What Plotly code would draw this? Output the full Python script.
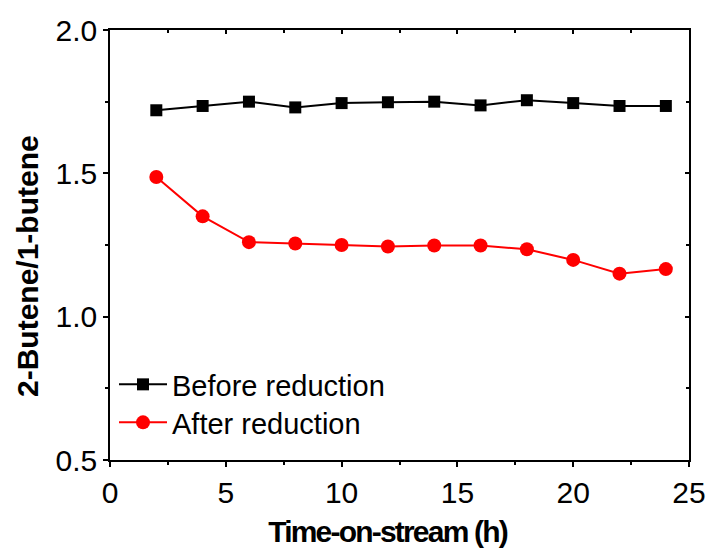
import plotly.graph_objects as go

time_h = [2, 4, 6, 8, 10, 12, 14, 16, 18, 20, 22, 24]
before_reduction = [1.72, 1.735, 1.75, 1.73, 1.745, 1.748, 1.75, 1.737, 1.755, 1.745, 1.735, 1.735]
after_reduction = [1.487, 1.35, 1.26, 1.255, 1.25, 1.245, 1.248, 1.248, 1.235, 1.198, 1.15, 1.166]

x_ticks = [0, 5, 10, 15, 20, 25]
y_ticks = [0.5, 1.0, 1.5, 2.0]
y_tick_labels = ["0.5", "1.0", "1.5", "2.0"]

x_title = "Time-on-stream (h)"
y_title = "2-Butene/1-butene"

FONT = "Liberation Sans, Arial, sans-serif"

W, H = 711, 550
ML, MR, MT, MB = 110, 22, 30, 90
PW, PH = W - ML - MR, H - MT - MB


def px_to_paper_x(px):
    return (px - ML) / PW


def px_to_paper_y(py):
    return (H - MB - py) / PH


fig = go.Figure()
fig.add_trace(go.Scatter(
    x=time_h, y=before_reduction, mode="lines+markers", name="Before reduction",
    line=dict(color="black", width=2),
    marker=dict(symbol="square", size=12, color="black"),
    legend="legend",
))
fig.add_trace(go.Scatter(
    x=time_h, y=after_reduction, mode="lines+markers", name="After reduction",
    line=dict(color="#ff0000", width=2),
    marker=dict(symbol="circle", size=14, color="#ff0000"),
    legend="legend2",
))
# invisible trace to activate mirror axes (top/right, inward ticks)
fig.add_trace(go.Scatter(x=[0], y=[0.5], xaxis="x2", yaxis="y2", mode="markers",
                         marker=dict(opacity=0), showlegend=False, hoverinfo="skip"))

axis_common = dict(showgrid=False, zeroline=False, showline=True, linecolor="black",
                   linewidth=1.5, ticks="outside", tickcolor="black", tickwidth=1.5,
                   ticklen=5, automargin=False)
mirror_common = dict(showticklabels=False, showgrid=False, zeroline=False, showline=True,
                     linecolor="black", linewidth=1.5, ticks="inside", ticklen=4,
                     tickcolor="black", tickwidth=1.5)

legend_common = dict(xanchor="left", yanchor="top", bgcolor="rgba(0,0,0,0)",
                     font=dict(size=29, family=FONT), itemwidth=48)

fig.update_layout(
    width=W, height=H,
    paper_bgcolor="white", plot_bgcolor="white",
    margin=dict(l=ML, r=MR, t=MT, b=MB),
    font=dict(family=FONT, color="black", size=30),
    xaxis=dict(range=[0, 25], tickvals=x_ticks, **axis_common,
               minor=dict(dtick=2.5, ticks="outside", ticklen=3, tickcolor="black", tickwidth=1.5),
               tickfont=dict(size=30, family=FONT)),
    yaxis=dict(range=[0.5, 2.0], tickvals=y_ticks, ticktext=y_tick_labels, **axis_common,
               minor=dict(dtick=0.25, ticks="outside", ticklen=3, tickcolor="black", tickwidth=1.5),
               tickfont=dict(size=30, family=FONT)),
    xaxis2=dict(range=[0, 25], overlaying="x", side="top", tickvals=x_ticks, **mirror_common,
                minor=dict(dtick=2.5, ticks="inside", ticklen=3, tickcolor="black", tickwidth=1.5)),
    yaxis2=dict(range=[0.5, 2.0], overlaying="y", side="right", tickvals=y_ticks, **mirror_common,
                minor=dict(dtick=0.25, ticks="inside", ticklen=3, tickcolor="black", tickwidth=1.5)),
    legend=dict(x=px_to_paper_x(114), y=px_to_paper_y(359), **legend_common),
    legend2=dict(x=px_to_paper_x(114), y=px_to_paper_y(397), **legend_common),
    showlegend=True,
    annotations=[
        dict(text="<b>" + x_title + "</b>", xref="paper", yref="paper",
             x=px_to_paper_x(387), y=px_to_paper_y(531), xanchor="center", yanchor="middle",
             showarrow=False, font=dict(size=30, family=FONT)),
        dict(text="<b>" + y_title + "</b>", xref="paper", yref="paper", textangle=-90,
             x=px_to_paper_x(27), y=px_to_paper_y(266), xanchor="center", yanchor="middle",
             showarrow=False, font=dict(size=30, family=FONT)),
    ],
)

post = """
document.body.style.margin = '0';
document.querySelectorAll('text.annotation-text').forEach(function (t) {
  if (t.textContent.indexOf('Time') === 0) { t.style.letterSpacing = '-1.8px'; }
});
"""

fig.write_html("out.html", post_script=post, config={"displayModeBar": False})
